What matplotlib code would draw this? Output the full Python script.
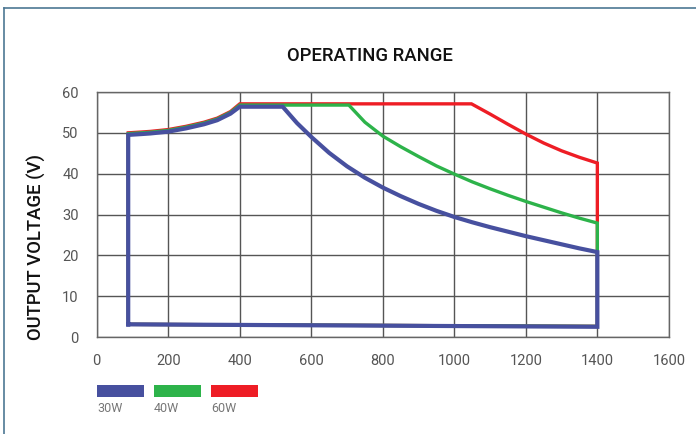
import matplotlib
matplotlib.use("Agg")
import matplotlib.pyplot as plt
from matplotlib.patches import Rectangle
from matplotlib.lines import Line2D

plt.rcParams['font.family'] = ['Roboto', 'DejaVu Sans']

# series (x = current, y = output voltage)
labels = ['30W', '40W', '60W']
colors = ['#47509f', '#2db34a', '#ee1d25']

x_30w = [88, 88, 125, 150, 200, 250, 300, 337, 374, 400, 520, 560, 600, 650, 700, 750, 800, 850, 900,
         950, 1000, 1050, 1100, 1150, 1200, 1250, 1300, 1350, 1400, 1400, 88]
v_30w = [3.1, 49.5, 49.7, 49.85, 50.3, 51.1, 52.1, 53.1, 54.7, 56.4, 56.4, 52.4, 49.0, 45.1, 41.8, 39.0, 36.6, 34.5, 32.6,
         30.9, 29.4, 28.1, 26.9, 25.8, 24.7, 23.7, 22.7, 21.7, 20.8, 2.5, 3.1]

x_40w = [88, 88, 125, 150, 200, 250, 300, 337, 374, 400, 705, 750, 800, 850, 900, 950, 1000, 1050,
         1100, 1150, 1200, 1250, 1300, 1350, 1400, 1400, 88]
v_40w = [3.1, 49.8, 50.0, 50.15, 50.6, 51.4, 52.4, 53.4, 55.0, 56.8, 56.8, 52.6, 49.2, 46.6, 44.2, 41.9, 39.9, 38.0,
         36.3, 34.7, 33.2, 31.8, 30.4, 29.1, 27.9, 2.6, 3.1]

x_60w = [88, 88, 125, 150, 200, 250, 300, 337, 374, 400, 1048, 1100, 1150, 1200, 1250, 1300, 1350, 1400, 1400, 88]
v_60w = [3.1, 50.0, 50.2, 50.35, 50.8, 51.6, 52.6, 53.6, 55.2, 57.1, 57.1, 54.6, 52.1, 49.7, 47.5, 45.6, 44.0, 42.6, 2.6, 3.1]

xticks = [0, 200, 400, 600, 800, 1000, 1200, 1400, 1600]
yticks = [0, 10, 20, 30, 40, 50, 60]

fig = plt.figure(figsize=(6.96, 4.34), dpi=100)
ax = fig.add_axes([0.139, 0.2235, 0.822, 0.5645])

ax.plot(x_60w, v_60w, color=colors[2], lw=2.4, solid_joinstyle='miter', zorder=3)
ax.plot(x_40w, v_40w, color=colors[1], lw=2.4, solid_joinstyle='miter', zorder=4)
ax.plot(x_30w, v_30w, color=colors[0], lw=3.0, solid_joinstyle='miter', zorder=5)

ax.set_xlim(0, 1600)
ax.set_ylim(0, 60)
ax.set_xticks(xticks)
ax.set_yticks(yticks)
ax.grid(True, color='#555555', lw=1)
ax.set_axisbelow(True)
for s in ax.spines.values():
    s.set_color('#666666')
    s.set_linewidth(1)
ax.tick_params(length=0, labelsize=10.5, labelcolor='#555555')
ax.tick_params(axis='x', pad=12)
ax.tick_params(axis='y', pad=13)

W, H = 696, 434
fig.text(370 / W, 1 - 56 / H, 'OPERATING RANGE', fontsize=13.3, fontweight='medium',
         color='#111111', ha='center', va='center')
ax.set_ylabel('OUTPUT VOLTAGE (V)', fontsize=13.3, fontweight='medium', color='#111111')
ax.yaxis.set_label_coords(-0.088, 0.367)

# legend: swatches with labels underneath
for i, (lab, c) in enumerate(zip(labels, colors)):
    x0 = 97 + i * 57
    fig.add_artist(Rectangle((x0 / W, 1 - 397 / H), 47 / W, 12 / H,
                             transform=fig.transFigure, color=c, lw=0))
    fig.text(x0 / W, 1 - 408 / H, lab, fontsize=9, color='#777777', va='center', ha='left')

# outer frame (runs off the right and bottom edges)
fig.add_artist(Line2D([4 / W, 4 / W], [0, 1 - 8 / H], transform=fig.transFigure, color='#4d7894', lw=1.2))
fig.add_artist(Line2D([4 / W, 1], [1 - 8 / H, 1 - 8 / H], transform=fig.transFigure, color='#4d7894', lw=1.2))

fig.savefig('out.png', dpi=100)
